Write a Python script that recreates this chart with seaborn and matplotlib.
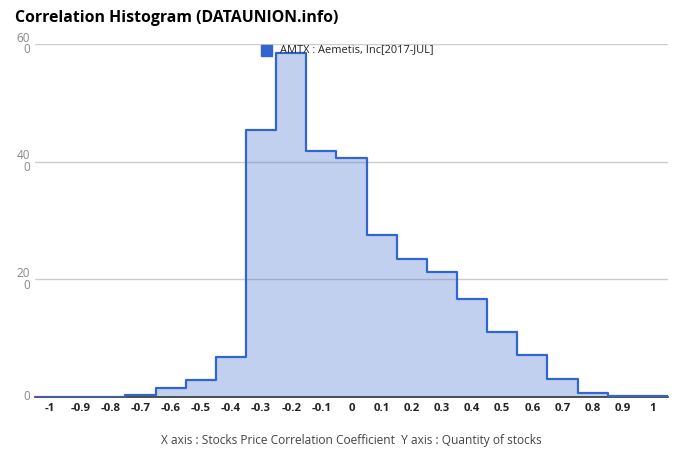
import matplotlib
matplotlib.use("Agg")
import matplotlib.pyplot as plt
import seaborn as sns
import numpy as np

# Data
bin_centers = [-1.0, -0.9, -0.8, -0.7, -0.6, -0.5, -0.4, -0.3, -0.2, -0.1,
               0.0, 0.1, 0.2, 0.3, 0.4, 0.5, 0.6, 0.7, 0.8, 0.9, 1.0]
counts = [0, 0, 0, 0.3, 1.5, 2.9, 6.8, 45.3, 58.5, 41.8,
          40.6, 27.6, 23.5, 21.2, 16.7, 11.1, 7.2, 3.0, 0.75, 0.17, 0.17]
x_ticks = [-1, -0.9, -0.8, -0.7, -0.6, -0.5, -0.4, -0.3, -0.2, -0.1,
           0, 0.1, 0.2, 0.3, 0.4, 0.5, 0.6, 0.7, 0.8, 0.9, 1]
x_tick_labels = ["-1", "-0.9", "-0.8", "-0.7", "-0.6", "-0.5", "-0.4", "-0.3", "-0.2", "-0.1",
                 "0", "0.1", "0.2", "0.3", "0.4", "0.5", "0.6", "0.7", "0.8", "0.9", "1"]
y_ticks = [0, 20, 40, 60]
y_tick_labels = ["0", "20\n0", "40\n0", "60\n0"]
series_name = "AMTX : Aemetis, Inc[2017-JUL]"
title = "Correlation Histogram (DATAUNION.info)"
xlabel = "X axis : Stocks Price Correlation Coefficient  Y axis : Quantity of stocks"

sns.set_style("white")
plt.rcParams['font.family'] = ['Open Sans', 'DejaVu Sans']

fig = plt.figure(figsize=(6.8, 4.62), dpi=100)
ax = fig.add_axes([35/680, 1-397/462, (668-35)/680, (397-44)/462])

edges = np.round(np.array(bin_centers) - 0.05, 3).tolist() + [round(bin_centers[-1] + 0.05, 3)]
color = "#3366cc"
sns.histplot(x=bin_centers, weights=counts, bins=edges, element="step", fill=True,
             color=color, alpha=0.3, linewidth=0, ax=ax)
st = ax.stairs(counts, edges, color=color, linewidth=1.6, zorder=3)
st.set_joinstyle("round")
st.set_capstyle("round")

ax.set_xlim(-1.05, 1.05)
ax.set_ylim(0, 60)
ax.set_xticks(x_ticks)
ax.set_xticklabels(x_tick_labels, fontsize=8.2, fontweight="bold", color="#222222")
ax.set_yticks(y_ticks)
ax.set_yticklabels([])
for v, lab in zip(y_ticks, y_tick_labels):
    ax.text(-0.008, v, lab, transform=ax.get_yaxis_transform(), ha="right",
            va="center", fontsize=8.5, color="#888888", linespacing=0.85)
ax.tick_params(axis="x", length=0, pad=4)
ax.tick_params(axis="y", length=0)
ax.grid(axis="y", color="#cccccc", linewidth=1)
ax.set_axisbelow(True)
for s in ["top", "right", "left"]:
    ax.spines[s].set_visible(False)
ax.spines["bottom"].set_color("#333333")
ax.spines["bottom"].set_linewidth(1.2)
ax.set_ylabel("")
ax.set_xlabel(xlabel, fontsize=8.6, color="#444444", labelpad=15)

fig.text(15/680, 1-18/462, title, fontsize=11.4, fontweight="bold", color="#000000",
         ha="left", va="center")

# legend
fig.patches.append(plt.Rectangle((261/680, 1-56/462), 11/680, 11/462, transform=fig.transFigure,
                                 color=color, figure=fig))
fig.text(280/680, 1-50/462, series_name, fontsize=7.9, color="#222222", ha="left", va="center")

fig.savefig("out.png", dpi=100)
